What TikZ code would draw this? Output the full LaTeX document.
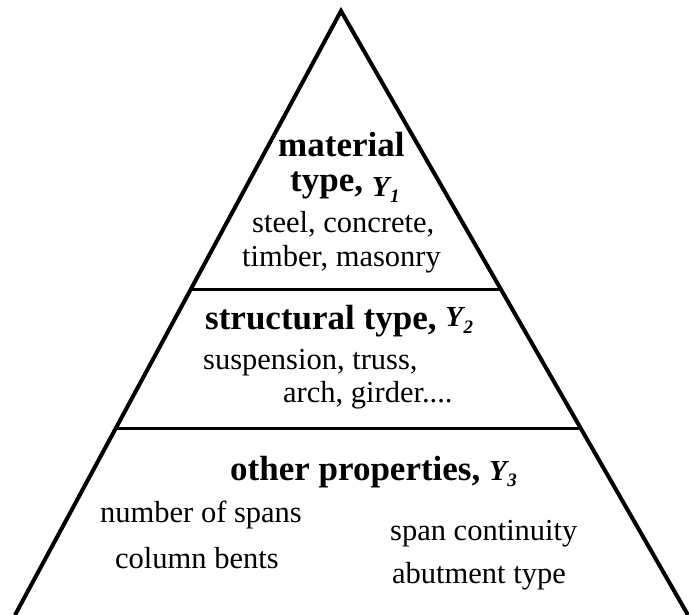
\documentclass[tikz,border=0pt]{standalone}
\usepackage{fontspec}
\setmainfont{Liberation Serif}
\usetikzlibrary{calc}
\newcommand{\Ylab}[2]{\raisebox{#2}{{\fontsize{29}{29}\selectfont\bfseries\itshape Y}\kern0.5pt\raisebox{-6pt}{\fontsize{19}{19}\selectfont\bfseries\itshape #1}}}
\begin{document}
\begin{tikzpicture}[x=1pt,y=1pt,
  edge/.style={line width=4pt, line join=miter},
  divider/.style={line width=3pt},
  head/.style={anchor=base west, inner sep=0pt, font=\fontsize{35}{38}\selectfont\bfseries},
  body/.style={anchor=base west, inner sep=0pt, font=\fontsize{30.5}{34}\selectfont}]
\useasboundingbox (0,0) rectangle (689,-615);
\clip (0,0) rectangle (689,-615);
\coordinate (A) at (341,-11);
\coordinate (BL) at (15,-615);
\coordinate (BR) at (688,-615);
\coordinate (L1) at ($(A)!0.4619!(BL)$);
\coordinate (R1) at ($(A)!0.4619!(BR)$);
\coordinate (L2) at ($(A)!0.6904!(BL)$);
\coordinate (R2) at ($(A)!0.6904!(BR)$);
\draw[edge] (BL) -- (A) -- (BR);
\draw[divider] (L1) -- (R1);
\draw[divider] (L2) -- (R2);
\node[head] (mat) at (278,-157) {material};
\node[head] (typ) at (290,-192) {type, \Ylab{1}{-5pt}};
\node[body] (stl) at (252,-233) {steel, concrete,};
\node[body] (tim) at (242,-267) {timber, masonry};
\node[head] (str) at (205,-330) {structural type, \Ylab{2}{3pt}};
\node[body] (sus) at (203,-369) {suspension, truss,};
\node[body] (arc) at (283,-402) {arch, girder....};
\node[head] (oth) at (230,-480) {other properties, \Ylab{3}{0pt}};
\node[body] (nos) at (100,-522) {number of spans};
\node[body] (col) at (115,-568) {column bents};
\node[body] (spc) at (390,-540) {span continuity};
\node[body] (abu) at (392,-583) {abutment type};
\end{tikzpicture}
\end{document}
